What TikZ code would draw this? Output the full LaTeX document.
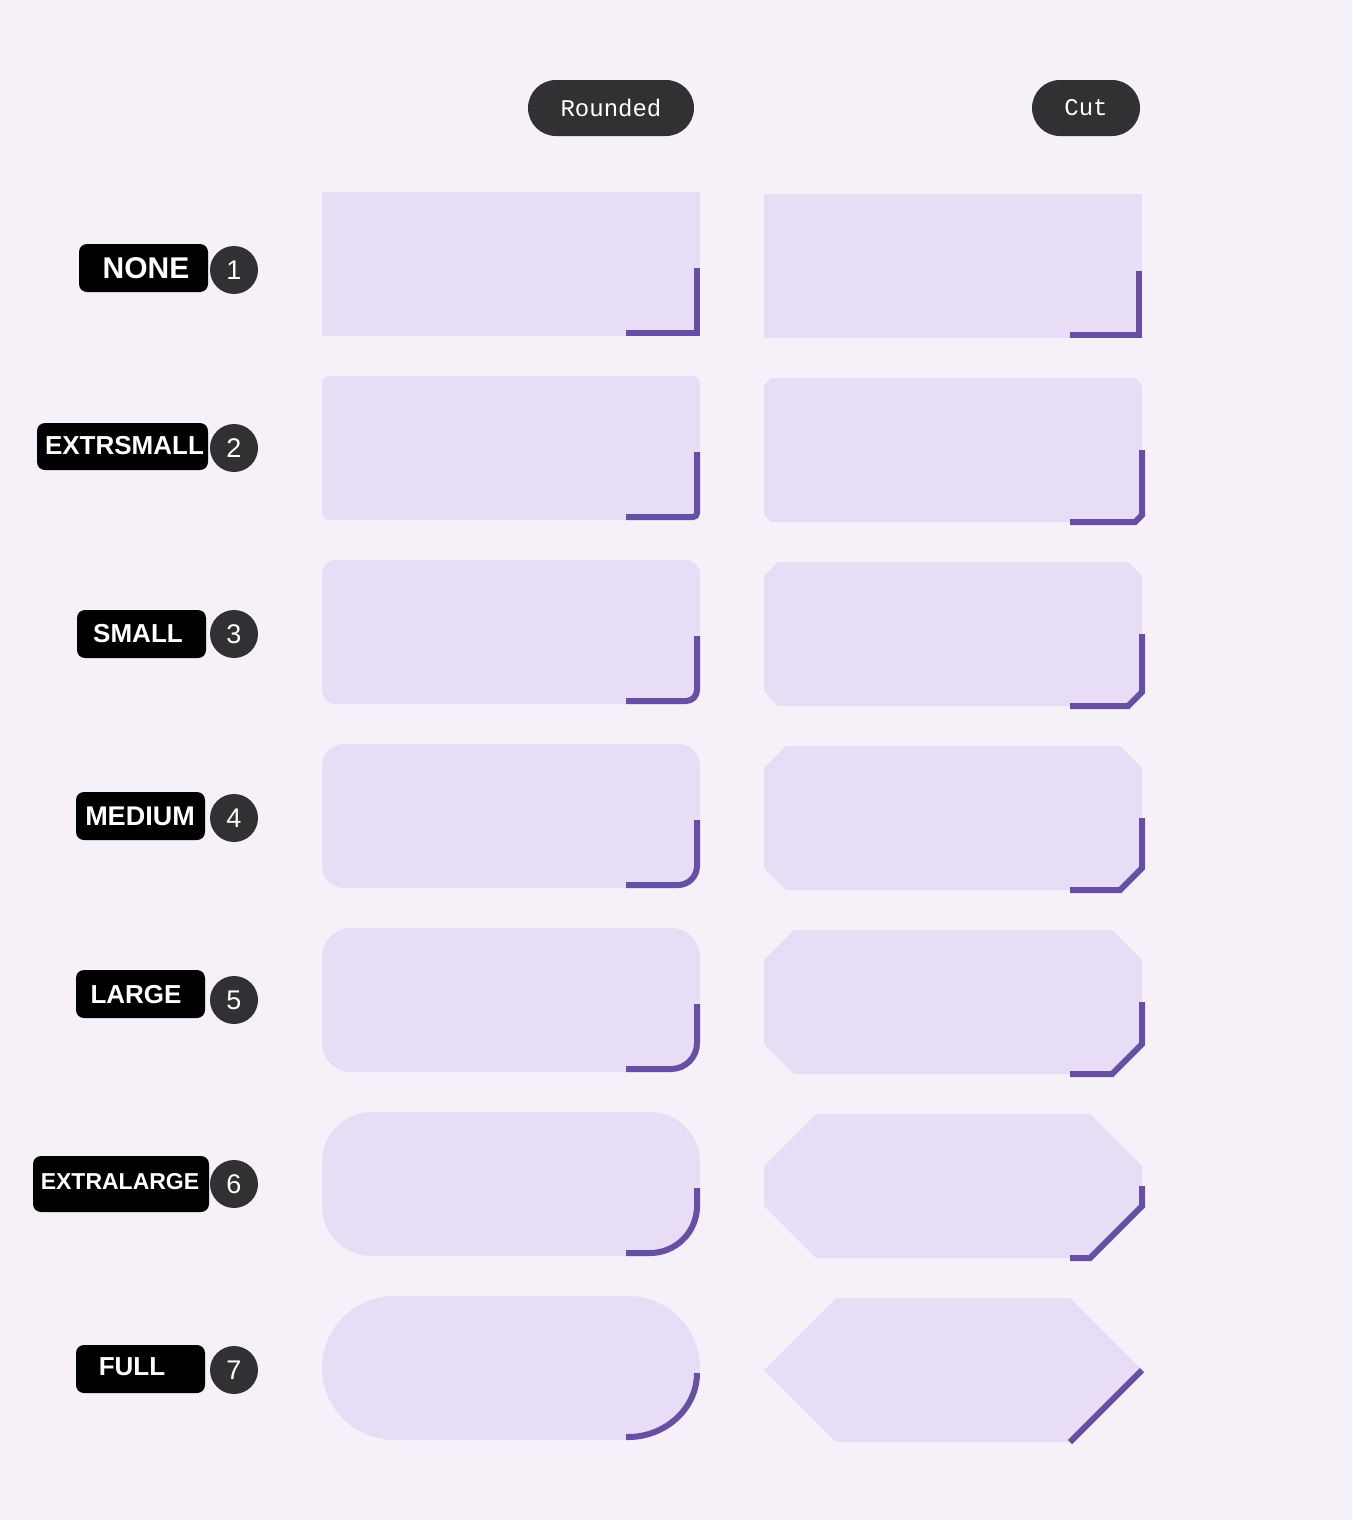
\documentclass[tikz,border=0pt]{standalone}
\usepackage{fontspec}
\setmainfont{Liberation Sans}
\newfontfamily\pillfont{Liberation Mono}
\definecolor{bgc}{HTML}{F6F1F9}
\definecolor{boxc}{HTML}{E7DDF6}
\definecolor{indc}{HTML}{6750A4}
\definecolor{darkc}{HTML}{313033}
\tikzset{
  pill/.style={fill=darkc, rounded corners=28pt, text=white, inner sep=0pt,
    minimum height=56pt, font=\pillfont\fontsize{24}{24}\selectfont},
  labbox/.style={fill=black, rounded corners=8pt, inner sep=0pt},
  labtext/.style={text=white, inner sep=0pt, font=\bfseries\fontsize{#1}{#1}\selectfont},
  labtext/.default=26,
  numc/.style={circle, fill=darkc, text=white, inner sep=0pt, minimum size=48pt,
    font=\fontsize{27}{27}\selectfont},
  ind/.style={draw=indc, line width=6pt, line cap=butt, line join=miter},
  shapefill/.style={fill=boxc}
}
\begin{document}
\begin{tikzpicture}[x=1pt,y=-1pt]
\fill[bgc] (0,0) rectangle (1352,1520);
\useasboundingbox (0,0) rectangle (1352,1520);

% headers
\node[pill, minimum width=166pt] (hround) at (611,108) {\raisebox{-1.5pt}{Rounded}};
\node[pill, minimum width=108pt] (hcut) at (1086,108) {\raisebox{-1.5pt}{Cut}};

% rounded column shapes
\fill[shapefill] (322,192) rectangle (700,336);
\fill[shapefill, rounded corners=7pt] (322,376) rectangle (700,520);
\fill[shapefill, rounded corners=14pt] (322,560) rectangle (700,704);
\fill[shapefill, rounded corners=22pt] (322,744) rectangle (700,888);
\fill[shapefill, rounded corners=29pt] (322,928) rectangle (700,1072);
\fill[shapefill, rounded corners=50pt] (322,1112) rectangle (700,1256);
\fill[shapefill, rounded corners=72pt] (322,1296) rectangle (700,1440);

% rounded indicators
\draw[ind] (697,268) |- (626,333);
\draw[ind, rounded corners=4pt] (697,452) |- (626,517);
\draw[ind, rounded corners=11pt] (697,636) |- (626,701);
\draw[ind, rounded corners=19pt] (697,820) |- (626,885);
\draw[ind, rounded corners=26pt] (697,1004) |- (626,1069);
\draw[ind, rounded corners=47pt] (697,1188) |- (626,1253);
\draw[ind] (697,1373) .. controls (697,1408) and (666,1437) .. (628,1437) -- (626,1437);

% cut column shapes
\fill[shapefill] (764,194) rectangle (1142,338);
\foreach \t/\c in {378/7, 562/14, 746/22, 930/30, 1114/52, 1298/72}{
  \pgfmathsetmacro{\b}{\t+144}
  \fill[shapefill] (764+\c,\t) -- (1142-\c,\t) -- (1142,\t+\c) -- (1142,\b-\c)
    -- (1142-\c,\b) -- (764+\c,\b) -- (764,\b-\c) -- (764,\t+\c) -- cycle;
}

% cut indicators
\draw[ind] (1139,271) |- (1070,335);
\foreach \t/\c in {378/7, 562/14, 746/22, 930/30, 1114/52}{
  \pgfmathsetmacro{\b}{\t+144}
  \draw[ind] (1142,\t+72) -- (1142,\b-\c) -- (1142-\c,\b) -- (1070,\b);
}
\draw[ind] (1142,1370) -- (1070,1442);

% labels
\node[labbox, minimum width=129pt, minimum height=48pt] (b1) at (143.5,268) {};
\node[labtext=30] (t1) at (146,268) {NONE};
\node[labbox, minimum width=171pt, minimum height=47pt] (b2) at (122.5,446.5) {};
\node[labtext=26] (t2) at (124.5,446) {EXTRSMALL};
\node[labbox, minimum width=129pt, minimum height=48pt] (b3) at (141.5,634) {};
\node[labtext=26] (t3) at (138,634) {SMALL};
\node[labbox, minimum width=129pt, minimum height=48pt] (b4) at (140.5,816) {};
\node[labtext=27] (t4) at (140,816) {MEDIUM};
\node[labbox, minimum width=129pt, minimum height=48pt] (b5) at (140.5,994) {};
\node[labtext=26] (t5) at (136,995) {LARGE};
\node[labbox, minimum width=176pt, minimum height=56pt] (b6) at (121,1184) {};
\node[labtext=23] (t6) at (120,1182) {EXTRALARGE};
\node[labbox, minimum width=129pt, minimum height=48pt] (b7) at (140.5,1369) {};
\node[labtext=26] (t7) at (132,1367) {FULL};

% numbers
\node[numc] (n1) at (234,270) {1};
\node[numc] (n2) at (234,448) {2};
\node[numc] (n3) at (234,634) {3};
\node[numc] (n4) at (234,818) {4};
\node[numc] (n5) at (234,1000) {5};
\node[numc] (n6) at (234,1184) {6};
\node[numc] (n7) at (234,1370) {7};
\end{tikzpicture}
\end{document}
